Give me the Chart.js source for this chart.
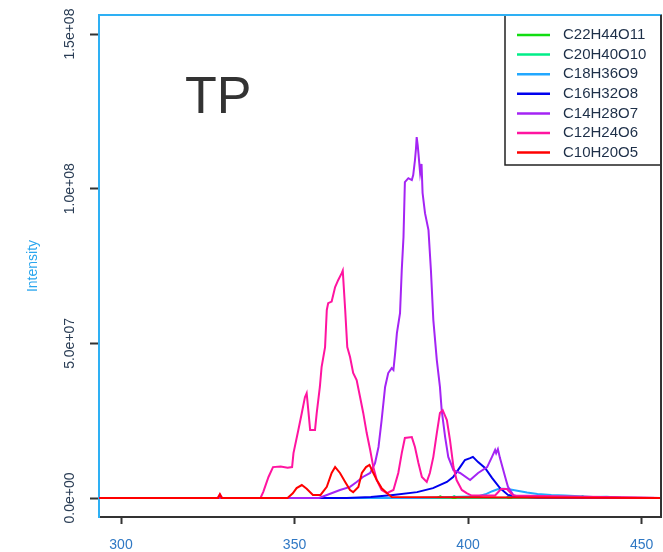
<!DOCTYPE html>
<html>
<head>
<meta charset="utf-8">
<script src="https://cdn.jsdelivr.net/npm/chart.js@4/dist/chart.umd.min.js"></script>
<style>
  html, body { margin: 0; padding: 0; background: #fff; }
  #wrap { width: 663px; height: 552px; position: relative; }
</style>
</head>
<body>
<div id="wrap"><canvas id="chart" width="663" height="552"></canvas></div>
<script>
// Extracted ion traces for the TP sample; intensities are in units of 1e6 counts.
const seriesNames  = ['C22H44O11', 'C20H40O10', 'C18H36O9', 'C16H32O8', 'C14H28O7', 'C12H24O6', 'C10H20O5'];
const seriesColors = ['#11dd11', '#00ee88', '#22a8ff', '#0000ee', '#a424f4', '#ff14a0', '#ff0000'];

const c22X = [293.7, 391, 392, 393, 426, 427, 428, 455.6];
const c22Y = [0, 0, 0.5, 0, 0, 0.6, 0, 0];

const c20X = [293.7, 395, 396, 397, 411, 412, 413, 432, 433, 434, 455.6];
const c20Y = [0, 0, 0.6, 0, 0, 0.8, 0, 0, 0.6, 0, 0];

const c18X = [293.7, 385, 395, 403, 405, 407, 408.5, 410, 411.5, 413, 415, 417, 420, 424, 428, 432, 436, 440, 444, 455.6];
const c18Y = [0, 0, 0.3, 0.6, 1.2, 2.2, 2.8, 3.0, 2.9, 2.6, 2.2, 1.8, 1.3, 1.0, 0.8, 0.6, 0.3, 0.4, 0.1, 0];

const c16X = [293.7, 365, 372, 378.4, 385.3, 389.9, 393.9, 395.7, 397.7, 399.1, 400.6, 401.4, 402.9, 404.9, 406.9, 409.2, 411.5, 414, 420, 455.6];
const c16Y = [0, 0, 0.3, 1, 1.9, 3.2, 5.2, 6.8, 10, 12.3, 12.9, 13.3, 11.6, 9.7, 6.5, 3.2, 1, 0.5, 0.2, 0];

const c14X = [293.7, 357, 358.2, 363.1, 366.0, 367.9, 369.7, 371.8, 373.2, 374.2, 375.1, 376.1, 377.0, 378.0, 378.5, 379.0,
              379.5, 380.4, 380.9, 381.4, 381.8, 382.8, 383.8, 384.2, 384.7, 385.0, 385.2, 385.5, 385.7, 386.2, 386.6,
              386.9, 387.6, 388.6, 389.3, 390.0, 391.0, 391.9, 392.4, 393.4, 394.3, 395.8, 397.7, 400.6, 402.9, 405.5,
              406.9, 407.8, 408.1, 408.6, 409.2, 410.7, 411.5, 413.0, 415, 455.6];
const c14Y = [0, 0, 0.5, 2.6, 3.6, 5.2, 6.8, 8.1, 11.3, 16.5, 25.2, 35.9, 40.4, 42, 41.4, 46.9,
              53.3, 59.8, 73.7, 84.4, 102.1, 103.4, 102.8, 104.4, 109.2, 113, 116.7, 114, 111.5, 105, 108,
              98.6, 92.1, 86.6, 73.7, 57.5, 44.6, 35.9, 28.4, 19.7, 13.3, 9, 8.1, 5.8, 8.1, 10,
              13.3, 15.5, 14.5, 15.8, 12.9, 6.8, 3.6, 1, 0.3, 0];

const c12X = [293.7, 327.8, 328.5, 329.2, 340.2, 341.0, 342.5, 343.8, 346, 348, 349.3, 349.7, 351.1, 352.1, 353.0, 353.5,
              354.0, 354.5, 355.9, 356.4, 357.3, 357.8, 358.8, 359.3, 359.7, 360.7, 361.7, 362.6, 363.6, 363.9, 364.6,
              365.2, 366.0, 366.9, 367.9, 368.9, 369.8, 370.8, 371.8, 372.7, 373.7, 375.1, 376.6, 378.5, 379.9, 380.9,
              381.8, 383.8, 384.7, 385.7, 386.7, 388.1, 389.0, 390.0, 391.0, 391.9, 392.7, 393.9, 394.8, 395.8, 396.7,
              398.2, 399.6, 401, 407.8, 409.5, 411.2, 413, 455.6];
const c12Y = [0, 0, 1.2, 0, 0, 2, 6.8, 10, 10.2, 9.8, 10, 14.5, 22, 27.5, 32.6, 33.9,
              28, 22, 22, 27.5, 35.9, 42.3, 48.8, 60.8, 63, 63.5, 68.2, 70.5, 72.7, 73.5, 60.8,
              48.8, 45.6, 40.4, 38.1, 32.6, 27.5, 21, 15.5, 10, 5.8, 2.6, 1.6, 2.6, 8.1, 14.5,
              19.4, 19.7, 16.5, 11.3, 6.8, 5.2, 8.1, 13.3, 21, 27.5, 28.4, 25.2, 18.7, 10, 5.8,
              2.6, 1.6, 0.8, 0.8, 2.9, 2.9, 0.8, 0];

const c10X = [293.7, 328.0, 328.5, 329.0, 348, 349.5, 350.6, 352.1, 353.5, 355.3, 357.5, 359.3, 360.7, 361.7, 363.1, 364.6,
              366.0, 366.9, 368.4, 369.4, 370.6, 371.6, 372.7, 373.7, 375.1, 376.6, 378, 455.6];
const c10Y = [0, 0, 1.2, 0, 0, 1.5, 3.2, 4.2, 3.0, 1, 1, 3.6, 8.1, 10, 8.1, 5.2,
              2.6, 1.9, 3.6, 8.1, 10, 10.7, 8.1, 5.8, 3.2, 1.6, 0.3, 0];

const xTicks = [300, 350, 400, 450];
const yTicks = [0, 5e7, 1e8, 1.5e8];
const yTickLabels = ['0.0e+00', '5.0e+07', '1.0e+08', '1.5e+08'];

const traces = [[c22X, c22Y], [c20X, c20Y], [c18X, c18Y], [c16X, c16Y], [c14X, c14Y], [c12X, c12Y], [c10X, c10Y]];

const FRAME_BLUE = '#2eb0f4';
const FRAME_DARK = '#333333';
const FONT = '"Liberation Sans", Arial, sans-serif';

const datasets = traces.map(([xs, ys], i) => ({
  label: seriesNames[i],
  data: xs.map((x, k) => ({ x: x, y: ys[k] * 1e6 })),
  borderColor: seriesColors[i],
  borderWidth: 2,
  pointRadius: 0,
  tension: 0,
  fill: false,
  order: traces.length - i   // later traces are painted over earlier ones
}));

// Top and right sides of the plot box
const framePlugin = {
  id: 'frame',
  afterDraw(chart) {
    const { ctx, chartArea: a } = chart;
    ctx.save();
    ctx.lineWidth = 2;
    ctx.strokeStyle = FRAME_BLUE;
    ctx.beginPath(); ctx.moveTo(a.left, a.top); ctx.lineTo(a.right, a.top); ctx.stroke();
    ctx.strokeStyle = FRAME_DARK;
    ctx.beginPath(); ctx.moveTo(a.right, a.top); ctx.lineTo(a.right, a.bottom); ctx.stroke();
    ctx.restore();
  }
};

// Legend box tucked into the top-right corner of the plot
const cornerLegend = {
  id: 'cornerLegend',
  afterDatasetsDraw(chart) {
    const { ctx, chartArea: a } = chart;
    const w = 156, h = 150, x0 = a.right - w, y0 = a.top;
    ctx.save();
    ctx.fillStyle = '#fff';
    ctx.fillRect(x0, y0, w, h);
    ctx.strokeStyle = '#222';
    ctx.lineWidth = 1.5;
    ctx.strokeRect(x0, y0, w, h);
    ctx.font = '15px ' + FONT;
    ctx.textBaseline = 'middle';
    ctx.textAlign = 'left';
    chart.data.datasets.forEach((ds, i) => {
      const y = y0 + 20 + i * 19.6;
      ctx.strokeStyle = ds.borderColor;
      ctx.lineWidth = 2.5;
      ctx.beginPath(); ctx.moveTo(x0 + 12, y); ctx.lineTo(x0 + 45, y); ctx.stroke();
      ctx.fillStyle = '#1d2f48';
      ctx.fillText(ds.label, x0 + 58, y);
    });
    ctx.restore();
  }
};

// Sample tag
const sampleTag = {
  id: 'sampleTag',
  afterDraw(chart) {
    const { ctx } = chart;
    ctx.save();
    ctx.fillStyle = '#333';
    ctx.font = '52px ' + FONT;
    ctx.textBaseline = 'alphabetic';
    ctx.textAlign = 'left';
    ctx.fillText('TP', 185, 113);
    ctx.restore();
  }
};

new Chart(document.getElementById('chart'), {
  type: 'line',
  data: { datasets },
  options: {
    responsive: false,
    animation: false,
    events: [],
    layout: { padding: { left: 0, right: 2, top: 15, bottom: 0 } },
    plugins: { legend: { display: false }, tooltip: { enabled: false }, title: { display: false } },
    scales: {
      x: {
        type: 'linear',
        min: 293.66,
        max: 455.6,
        afterBuildTicks: s => { s.ticks = xTicks.map(v => ({ value: v })); },
        afterFit: s => { s.height = 35; s.paddingLeft = 0; s.paddingRight = 0; },
        grid: { drawOnChartArea: false, drawTicks: true, tickLength: 7, tickColor: FRAME_DARK, tickWidth: 2 },
        border: { display: true, color: FRAME_DARK, width: 2 },
        ticks: {
          autoSkip: false, maxRotation: 0, padding: 13,
          color: '#2f78c4',
          font: { family: FONT, size: 14 },
          callback: v => String(v)
        }
      },
      y: {
        type: 'linear',
        min: -6.14e6,
        max: 1.5616e8,
        afterBuildTicks: s => { s.ticks = yTicks.map(v => ({ value: v })); },
        afterFit: s => { s.width = 99; s.paddingTop = 0; s.paddingBottom = 0; },
        grid: { drawOnChartArea: false, drawTicks: true, tickLength: 9, tickColor: FRAME_DARK, tickWidth: 2 },
        border: { display: true, color: FRAME_BLUE, width: 2 },
        ticks: {
          minRotation: 90, maxRotation: 90,
          crossAlign: 'center',
          padding: -6,
          color: '#2a3d55',
          font: { family: FONT, size: 14 },
          callback: v => yTickLabels[yTicks.indexOf(v)]
        },
        title: {
          display: true, text: 'Intensity', color: '#2aa6ee',
          font: { family: FONT, size: 14 },
          padding: { top: 25, bottom: 0 }
        }
      }
    }
  },
  plugins: [framePlugin, cornerLegend, sampleTag]
});
</script>
</body>
</html>
